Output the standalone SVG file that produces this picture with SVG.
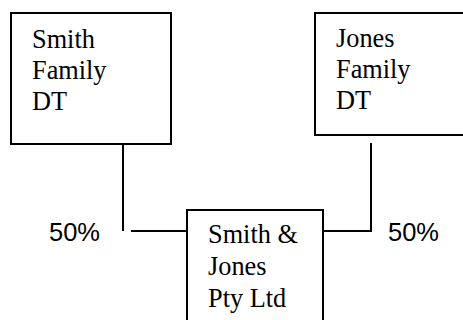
<svg xmlns="http://www.w3.org/2000/svg" width="463" height="320" viewBox="0 0 463 320">
  <style>
    .box { fill: #ffffff; stroke: #000000; stroke-width: 2; }
    .wire { fill: none; stroke: #000000; stroke-width: 2; }
    .name { font-family: "Liberation Serif", "Times New Roman", serif; font-size: 26.3px; fill: #000000; }
    .pct { font-family: "Liberation Sans", Arial, sans-serif; font-size: 25.5px; fill: #000000; }
  </style>
  <rect width="463" height="320" fill="#ffffff"/>

  <!-- ownership connectors -->
  <g id="connectors">
    <polyline class="wire" points="123,144 123,231"/>
    <polyline class="wire" points="131,231 187,231"/>
    <polyline class="wire" points="323,231 371,231 371,143"/>
  </g>

  <g id="smith-family-dt">
    <rect class="box" x="11" y="13" width="160" height="131"/>
    <text class="name" x="32" y="48">Smith</text>
    <text class="name" x="32" y="79">Family</text>
    <text class="name" x="32" y="110">DT</text>
  </g>

  <g id="jones-family-dt">
    <rect class="box" x="315" y="13" width="160" height="122"/>
    <text class="name" x="336" y="47">Jones</text>
    <text class="name" x="336" y="78">Family</text>
    <text class="name" x="336" y="109">DT</text>
  </g>

  <g id="smith-jones-pty-ltd">
    <rect class="box" x="187" y="210" width="136" height="120"/>
    <text class="name" x="208" y="243">Smith &amp;</text>
    <text class="name" x="208" y="275">Jones</text>
    <text class="name" x="208" y="307">Pty Ltd</text>
  </g>

  <g id="share-labels">
    <text class="pct" x="49" y="241">50%</text>
    <text class="pct" x="388" y="241">50%</text>
  </g>
</svg>
